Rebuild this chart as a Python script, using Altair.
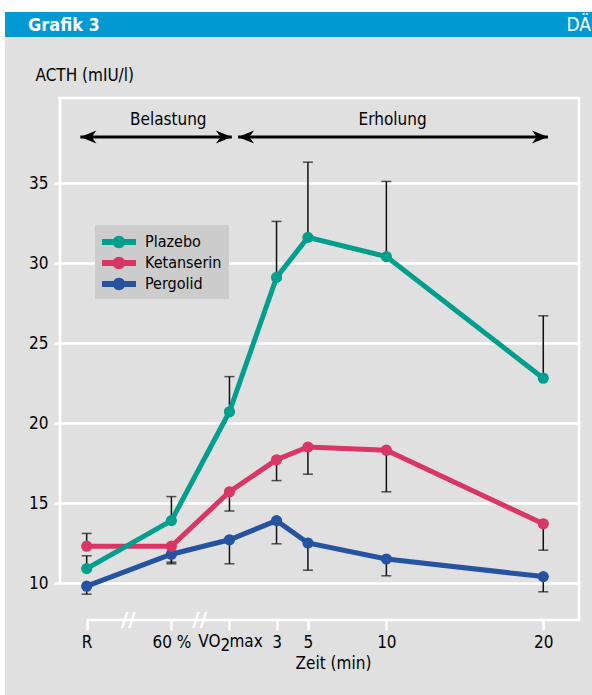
import altair as alt
import pandas as pd

# ---------------------------------------------------------------- data
time_labels = ["R", "60 %", "VO2max", "3", "5", "10", "20"]
# position on the time axis (minutes after VO2max; rest and 60 % placed before 0)
time_pos = [-9.1, -3.7, 0, 3, 5, 10, 20]

series_names = ["Plazebo", "Ketanserin", "Pergolid"]
series_colors = ["#009e8c", "#d93565", "#2553a1"]

plazebo = [10.9, 13.9, 20.7, 29.1, 31.6, 30.4, 22.8]
plazebo_err = [11.7, 15.4, 22.9, 32.6, 36.3, 35.1, 26.7]
ketanserin = [12.3, 12.3, 15.7, 17.7, 18.5, 18.3, 13.7]
ketanserin_err = [13.1, 11.3, 14.5, 16.4, 16.8, 15.7, 12.05]
pergolid = [9.8, 11.8, 12.7, 13.9, 12.5, 11.5, 10.4]
pergolid_err = [9.3, 11.2, 11.2, 12.45, 10.8, 10.45, 9.45]

y_ticks = [10, 15, 20, 25, 30, 35]

phase_names = ["Belastung", "Erholung"]
phase_start = [-9.5, 0.55]
phase_end = [0.15, 20.3]
phase_label_pos = [-3.9, 10.4]

axis_breaks = [-6.45, -1.9]

# ---------------------------------------------------------------- layout
W, H = 520, 522
PAD_L, PAD_T = 60, 98
FONT = "DejaVu Sans Condensed"
BG = "#e0e0e0"
INK = "#111111"

values = {"Plazebo": (plazebo, plazebo_err),
          "Ketanserin": (ketanserin, ketanserin_err),
          "Pergolid": (pergolid, pergolid_err)}
rows = []
for name in series_names:
    vals, errs = values[name]
    for p, v, e in zip(time_pos, vals, errs):
        rows.append({"series": name, "pos": p, "value": v, "err": e})
df = pd.DataFrame(rows)

phases = pd.DataFrame({"name": phase_names, "start": phase_start,
                       "end": phase_end, "label_pos": phase_label_pos})
breaks = pd.DataFrame({"pos": axis_breaks})
one = pd.DataFrame({"k": [0]})

# the VO2max label is set separately so that its "2" can sit low
label_map = ",".join(f"'{p:g}':'{'' if l == 'VO2max' else l}'"
                     for p, l in zip(time_pos, time_labels))
vo2_pos = time_pos[time_labels.index("VO2max")]

x_scale = alt.Scale(domain=[-10.8, 22.34], nice=False, zero=False)
y_scale = alt.Scale(domain=[7.6875, 40.3125], nice=False, zero=False)

x_axis = alt.Axis(values=time_pos, labelExpr="{" + label_map + "}[datum.value]",
                  grid=False, domain=False, tickColor="white", tickWidth=2.5,
                  tickSize=10, labelColor="black", labelFont=FONT, labelFontSize=17,
                  labelPadding=4, labelFlush=False, labelOverlap=False,
                  title="Zeit (min)", titleFont=FONT, titleFontSize=17,
                  titleFontWeight="normal", titleColor="black",
                  titleX=273, titleY=48, titleAlign="center",
                  titleBaseline="alphabetic")
y_axis = alt.Axis(values=y_ticks, grid=True, gridColor="white", gridWidth=2.5,
                  gridOpacity=1, domain=False, tickColor="white", tickSize=6,
                  tickWidth=2.5, labelColor="black", labelFont=FONT,
                  labelFontSize=17, labelPadding=6, labelOverlap=False,
                  title="ACTH (mIU/l)", titleAngle=0, titleAlign="left",
                  titleBaseline="alphabetic", titleX=-25, titleY=-18,
                  titleFont=FONT, titleFontSize=17, titleFontWeight="normal",
                  titleColor="black")

X = lambda f: alt.X(f, type="quantitative", scale=x_scale, axis=x_axis)
Y = lambda f: alt.Y(f, type="quantitative", scale=y_scale, axis=y_axis)

# legend symbol: a short bar with a dot in the middle (wider than the symbol box)
LEG_PATH = ("M -1.7 -0.29 L 1.7 -0.29 L 1.7 0.29 L -1.7 0.29 Z "
            "M 0.62 0 A 0.62 0.62 0 1 1 -0.62 0 A 0.62 0.62 0 1 1 0.62 0 Z")
legend = alt.Legend(title=None, orient="none", legendX=35, legendY=127,
                    direction="vertical", fillColor="#cccccc", padding=7,
                    symbolType=LEG_PATH, symbolSize=400, symbolStrokeWidth=0,
                    symbolOpacity=1, symbolOffset=7, labelFont=FONT,
                    labelFontSize=16, labelColor="black", labelOffset=16,
                    rowPadding=3)
color = alt.Color("series:N", scale=alt.Scale(domain=series_names, range=series_colors),
                  legend=legend)

# ---------------------------------------------------------------- frame
def rect(x, x2, y, y2, fill):
    return alt.Chart(one).mark_rect(color=fill).encode(
        x=alt.value(x), x2=alt.value(x2), y=alt.value(y), y2=alt.value(y2))

def rule(x, x2, y, y2):
    return alt.Chart(one).mark_rule(color="white", strokeWidth=2.5).encode(
        x=alt.value(x), x2=alt.value(x2), y=alt.value(y), y2=alt.value(y2))

top_strip = rect(-PAD_L, 592 - PAD_L, -PAD_T, -86, "white")
left_strip = rect(-PAD_L, -55, -PAD_T, 695 - PAD_T, "white")
title_bar = rect(-55, 592 - PAD_L, -86, -61, "#0099d1")
title_txt = alt.Chart(one).mark_text(text="Grafik 3", font=FONT, fontSize=18,
                                     fontWeight="bold", color="white", align="left",
                                     baseline="alphabetic").encode(
    x=alt.value(-32), y=alt.value(-67))
brand_txt = alt.Chart(one).mark_text(text="DÄ", font=FONT, fontSize=19,
                                     color="white", align="right",
                                     baseline="alphabetic").encode(
    x=alt.value(531), y=alt.value(-67))

frame_top = rule(-2, W, 0, 0)
frame_left = rule(0, 0, 0, 485)
frame_right = rule(W - 1, W - 1, 0, H + 1)
x_line = alt.Chart(pd.DataFrame({"pos": [time_pos[0]]})).mark_rule(
    color="white", strokeWidth=2.5).encode(x=X("pos"), x2=alt.value(W), y=alt.value(H))
break_marks = alt.Chart(breaks).mark_text(text="//", color="white", fontSize=20,
                                          fontWeight="bold", font="DejaVu Sans",
                                          baseline="middle").encode(
    x=X("pos"), y=alt.value(H))

# VO2max tick label in three pieces
vo2_df = pd.DataFrame({"pos": [vo2_pos]})
def vo2_piece(txt, align, dx, dy):
    return alt.Chart(vo2_df).mark_text(text=txt, font=FONT, fontSize=17,
                                       color="black", align=align, baseline="top",
                                       dx=dx, dy=dy).encode(
        x=X("pos"), y=alt.value(H + 14))
vo2_label = [vo2_piece("VO", "right", -9, 0), vo2_piece("2", "left", -9, 4),
             vo2_piece("max", "left", 0, 0)]

# ---------------------------------------------------------------- phase arrows
RIGHT_HEAD = "M 0 0 L -2 -0.8 L -1.4 0 L -2 0.8 Z"
LEFT_HEAD = "M 0 0 L 2 -0.8 L 1.4 0 L 2 0.8 Z"
arrow_y = 39
arrow_line = alt.Chart(phases).mark_rule(color="black", strokeWidth=3).encode(
    x=X("start"), x2="end", y=alt.value(arrow_y))
arrow_l = alt.Chart(phases).mark_point(shape=LEFT_HEAD, filled=True, size=256,
                                       color="black", opacity=1, strokeWidth=0).encode(
    x=X("start"), y=alt.value(arrow_y))
arrow_r = alt.Chart(phases).mark_point(shape=RIGHT_HEAD, filled=True, size=256,
                                       color="black", opacity=1, strokeWidth=0).encode(
    x=X("end"), y=alt.value(arrow_y))
phase_txt = alt.Chart(phases).mark_text(font=FONT, fontSize=17, color="black",
                                        baseline="alphabetic").encode(
    x=X("label_pos"), y=alt.value(27), text="name")

# ---------------------------------------------------------------- series
base = alt.Chart(df)
err_rule = base.mark_rule(color=INK, strokeWidth=1.5).encode(
    x=X("pos"), y=Y("value"), y2="err")
err_cap = base.mark_tick(orient="horizontal", size=10, thickness=1.5,
                         color=INK).encode(x=X("pos"), y=Y("err"))

series_layers = []
for name, col in list(zip(series_names, series_colors))[::-1]:
    sub = base.transform_filter(alt.datum.series == name)
    series_layers.append(sub.mark_line(color=col, strokeWidth=5).encode(
        x=X("pos"), y=Y("value")))
    series_layers.append(sub.mark_circle(size=125, opacity=1).encode(
        x=X("pos"), y=Y("value"), color=color))

chart = alt.layer(
    top_strip, left_strip, title_bar, title_txt, brand_txt,
    frame_top, frame_left, frame_right, x_line, break_marks, *vo2_label,
    arrow_line, arrow_l, arrow_r, phase_txt,
    err_rule, err_cap, *series_layers,
).properties(
    width=W, height=H, autosize="none", background=BG,
    padding={"left": PAD_L, "top": PAD_T, "right": 592 - PAD_L - W,
             "bottom": 695 - PAD_T - H},
).configure_view(stroke=None)

chart.save("out.html", embed_options={"renderer": "svg", "actions": False})
